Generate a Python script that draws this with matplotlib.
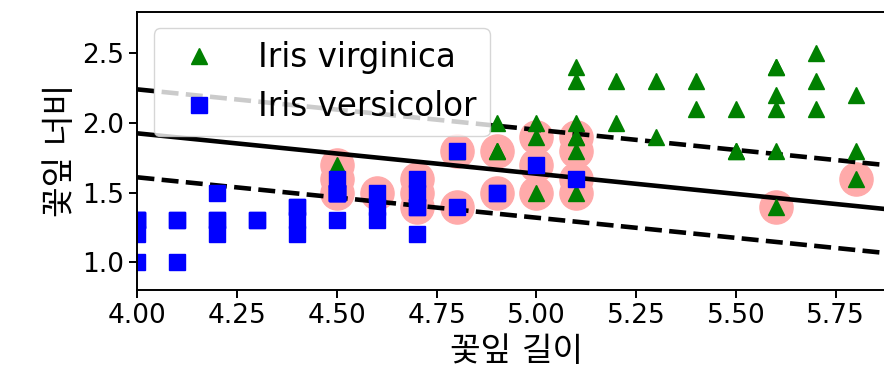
import matplotlib
matplotlib.use("Agg")
import matplotlib.pyplot as plt
import numpy as np

plt.rcParams['font.family'] = ['DejaVu Sans', 'Noto Sans CJK KR']

# 꽃잎 길이 / 너비 (cm)
versicolor_length = [4.7, 4.5, 4.9, 4.0, 4.6, 4.5, 4.7, 4.6, 4.2, 4.0, 4.7, 4.4, 4.5,
                     4.1, 4.5, 4.8, 4.0, 4.9, 4.7, 4.3, 4.4, 4.8, 5.0, 4.5, 5.1, 4.5,
                     4.5, 4.7, 4.4, 4.1, 4.0, 4.4, 4.6, 4.0, 4.2, 4.2, 4.2, 4.3, 4.1]
versicolor_width = [1.4, 1.5, 1.5, 1.3, 1.5, 1.3, 1.6, 1.3, 1.5, 1.0, 1.4, 1.4, 1.5,
                    1.0, 1.5, 1.8, 1.3, 1.5, 1.2, 1.3, 1.4, 1.4, 1.7, 1.5, 1.6, 1.5,
                    1.6, 1.5, 1.3, 1.3, 1.3, 1.2, 1.4, 1.2, 1.3, 1.2, 1.3, 1.3, 1.3]

virginica_length = [5.1, 5.6, 5.8, 4.5, 5.8, 5.1, 5.3, 5.5, 5.0, 5.1, 5.3, 5.5, 5.0,
                    5.7, 4.9, 4.9, 5.7, 4.8, 4.9, 5.6, 5.8, 5.6, 5.1, 5.6, 5.6, 5.5,
                    4.8, 5.4, 5.6, 5.1, 5.1, 5.7, 5.2, 5.0, 5.2, 5.4, 5.1]
virginica_width = [1.9, 1.8, 2.2, 1.7, 1.8, 2.0, 1.9, 2.1, 2.0, 2.4, 2.3, 1.8, 1.5,
                   2.3, 2.0, 1.8, 2.1, 1.8, 1.8, 2.1, 1.6, 2.2, 1.5, 1.4, 2.4, 1.8,
                   1.8, 2.1, 2.4, 2.3, 1.9, 2.5, 2.3, 1.9, 2.0, 2.3, 1.8]

# 서포트 벡터
sv_length = [4.5, 4.5, 4.5, 4.6, 4.7, 4.7, 4.7, 4.8, 4.8, 4.9, 4.9, 5.0, 5.0, 5.0,
             5.1, 5.1, 5.1, 5.1, 5.6, 5.8]
sv_width = [1.7, 1.6, 1.5, 1.5, 1.6, 1.5, 1.4, 1.8, 1.4, 1.8, 1.5, 1.9, 1.7, 1.5,
            1.9, 1.8, 1.6, 1.5, 1.4, 1.6]

# 결정 함수 w·x + b
w = [0.918, 3.165]
b = -9.767

x_ticks = [4.00, 4.25, 4.50, 4.75, 5.00, 5.25, 5.50, 5.75]
y_ticks = [1.0, 1.5, 2.0, 2.5]

fig = plt.figure(figsize=(8.84, 3.8), dpi=100)
ax = fig.add_axes([0.1555, 0.2368, 0.8575, 0.7324])

x0 = np.linspace(4.0, 5.9, 200)
decision_boundary = -w[0] / w[1] * x0 - b / w[1]
margin = 1 / w[1]

ax.scatter(sv_length, sv_width, s=570, facecolors='#FFAAAA')
ax.plot(x0, decision_boundary, "k-", linewidth=3.3)
ax.plot(x0, decision_boundary + margin, "k--", linewidth=3.3)
ax.plot(x0, decision_boundary - margin, "k--", linewidth=3.3)

ax.plot(virginica_length, virginica_width, "g^", markersize=11, label="Iris virginica")
ax.plot(versicolor_length, versicolor_width, "bs", markersize=11, label="Iris versicolor")

ax.set_xlim(4.0, 5.9)
ax.set_ylim(0.8, 2.8)
ax.set_xticks(x_ticks)
ax.set_yticks(y_ticks)
ax.set_xticklabels([f"{t:.2f}" for t in x_ticks])
ax.set_yticklabels([f"{t:.1f}" for t in y_ticks])
ax.tick_params(labelsize=19, length=6, width=1.4)
for s in ax.spines.values():
    s.set_linewidth(1.4)

ax.set_xlabel("꽃잎 길이", fontsize=24)
ax.set_ylabel("꽃잎 너비", fontsize=24)
ax.legend(loc="upper left", fontsize=23.5)

fig.savefig("out.png", dpi=100)
